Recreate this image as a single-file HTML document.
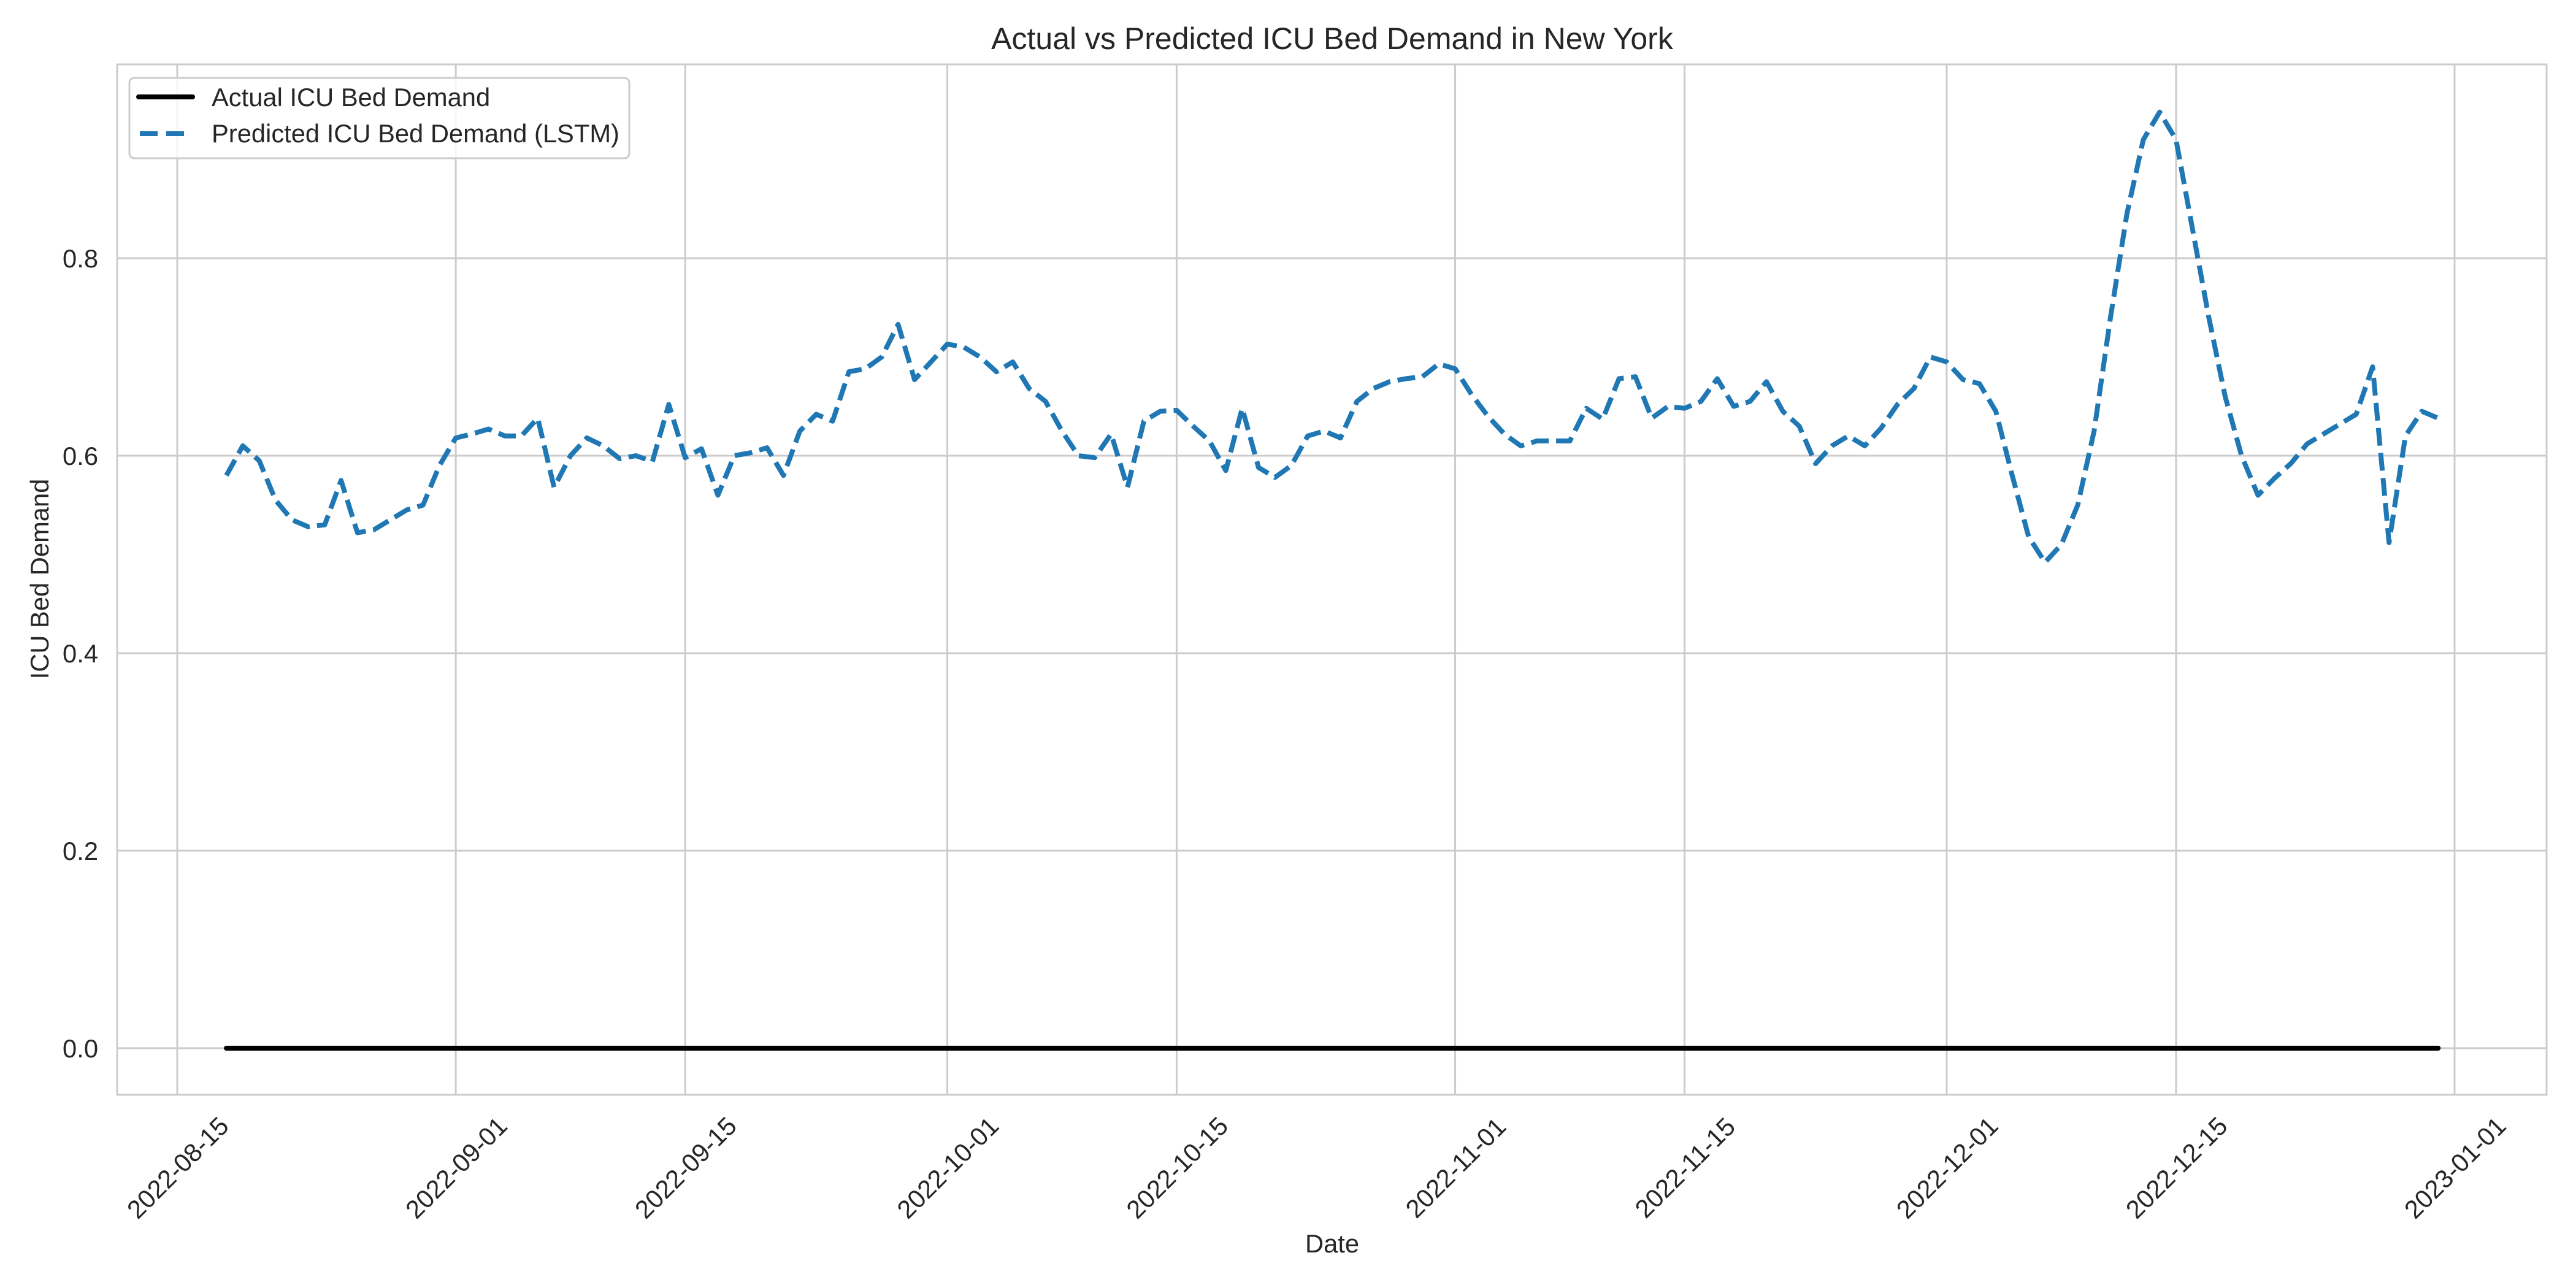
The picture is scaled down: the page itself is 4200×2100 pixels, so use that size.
<!DOCTYPE html>
<html><head><meta charset="utf-8"><style>
html,body{margin:0;padding:0;background:#fff}
svg{display:block}
text{font-family:"Liberation Sans",Arial,sans-serif;fill:#262626}
</style></head><body>
<svg id="chart" width="4200" height="2100" viewBox="0 0 4200 2100" xmlns="http://www.w3.org/2000/svg">
<rect x="0" y="0" width="4200" height="2100" fill="#fff"/>
<g id="grid"></g>
<rect x="191" y="105" width="3961" height="1680" fill="none" stroke="#cccccc" stroke-width="3"/>
<g id="series"></g>
<g id="ticks"></g>
<text x="2172" y="80" font-size="50" text-anchor="middle">Actual vs Predicted ICU Bed Demand in New York</text>
<text x="2172" y="2042" font-size="41.7" text-anchor="middle">Date</text>
<text x="0" y="0" font-size="41.7" text-anchor="middle" transform="translate(79,944) rotate(-90)">ICU Bed Demand</text>
<g>
<rect x="211" y="127" width="815" height="131" rx="8" fill="#fff" fill-opacity="0.8" stroke="#cccccc" stroke-width="3"/>
<line x1="226" y1="158" x2="314" y2="158" stroke="#000" stroke-width="8" stroke-linecap="round"/>
<text x="345" y="173" font-size="41.7">Actual ICU Bed Demand</text>
<line x1="228" y1="218" x2="314" y2="218" stroke="#1f77b4" stroke-width="8" stroke-dasharray="29,14"/>
<text x="345" y="232" font-size="41.7">Predicted ICU Bed Demand (LSTM)</text>
</g>
</svg>
<script>
const startDate = "2022-08-18";
const predicted = [0.58,0.61,0.595,0.555,0.535,0.528,0.53,0.575,0.522,0.525,0.535,0.545,0.55,0.59,
0.618,0.622,0.627,0.62,0.62,0.638,0.568,0.6,0.618,0.61,0.597,0.6,0.594,0.652,0.598,0.607,0.56,0.6,0.603,0.608,0.58,0.625,0.642,0.635,0.685,0.688,0.70,0.733,0.677,0.695,
0.713,0.71,0.70,0.685,0.695,0.668,0.655,0.625,0.60,0.598,0.622,0.568,0.635,0.645,0.646,0.63,0.615,0.585,0.648,0.588,0.578,0.59,0.62,0.625,0.618,0.655,0.668,0.675,0.678,0.68,0.693,
0.688,0.662,0.64,0.622,0.61,0.615,0.615,0.615,0.648,0.637,0.678,0.68,0.638,0.65,0.648,0.655,0.678,0.65,0.655,0.675,0.645,0.63,0.592,0.61,0.62,0.61,0.628,0.652,0.668,0.70,
0.695,0.677,0.673,0.645,0.58,0.518,0.492,0.51,0.55,0.625,0.74,0.845,0.92,0.948,0.92,0.83,0.74,0.66,0.6,0.56,0.577,0.592,0.612,0.622,0.632,0.642,0.69,0.512,0.62,0.645,0.638];
const actual = predicted.map(()=>0);
const yTicks = [0.0,0.2,0.4,0.6,0.8];
const xTickLabels = ["2022-08-15","2022-09-01","2022-09-15","2022-10-01","2022-10-15","2022-11-01","2022-11-15","2022-12-01","2022-12-15","2023-01-01"];

const NS="http://www.w3.org/2000/svg";
const day=86400000, t0=Date.UTC(2022,7,15), t1=Date.UTC(2023,0,1);
function xs(ms){return 289+(ms-t0)/(t1-t0)*(4002-289);}
function ys(v){return 1709-v*(1709-421)/0.8;}
function parse(s){const p=s.split('-');return Date.UTC(+p[0],+p[1]-1,+p[2]);}
const grid=document.getElementById('grid'), ticks=document.getElementById('ticks'), series=document.getElementById('series');
function mk(tag,attrs,parent){const e=document.createElementNS(NS,tag);for(const k in attrs)e.setAttribute(k,attrs[k]);parent.appendChild(e);return e;}
yTicks.forEach(v=>{
  const y=ys(v);
  const l=mk('line',{x1:191,x2:4152,y1:y,y2:y,stroke:'#cccccc','stroke-width':3},grid);
  
  
  const t=mk('text',{x:160,y:y+15,'font-size':41.7,'text-anchor':'end'},ticks);
  t.textContent=v.toFixed(1);
  
  
});
xTickLabels.forEach(s=>{
  const x=xs(parse(s));
  const l=mk('line',{x1:x,x2:x,y1:105,y2:1785,stroke:'#cccccc','stroke-width':3},grid);
  
  
  const t=mk('text',{x:0,y:0,'font-size':41.7,'text-anchor':'middle',transform:`translate(${x+11},${1914}) rotate(-45)`},ticks);
  t.textContent=s;
  
  
});
const s0=parse(startDate);
function pts(arr){return arr.map((v,i)=>xs(s0+i*day).toFixed(1)+','+ys(v).toFixed(1)).join(' ');}
const a=mk('polyline',{points:pts(actual),fill:'none',stroke:'#000','stroke-width':8,'stroke-linecap':'round'},series);


const p=mk('polyline',{points:pts(predicted),fill:'none',stroke:'#1f77b4','stroke-width':8,'stroke-dasharray':'29,12','stroke-linejoin':'round'},series);


</script>
</body></html>
